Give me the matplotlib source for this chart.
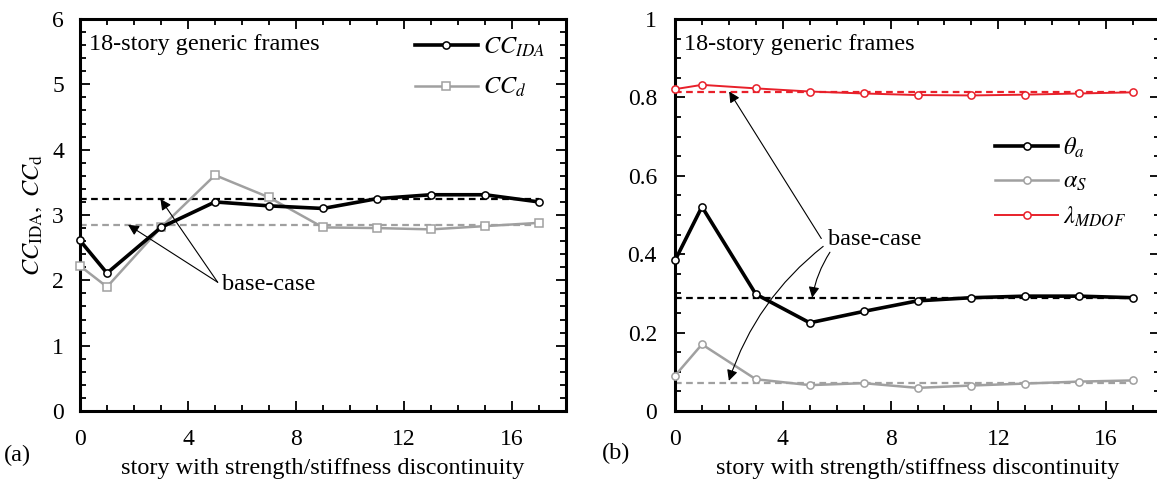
import matplotlib.pyplot as plt
from matplotlib.ticker import MultipleLocator

plt.rcParams['font.family'] = 'Liberation Serif'
plt.rcParams['mathtext.fontset'] = 'stix'

# ==============================================
story = [0, 1, 3, 5, 7, 9, 11, 13, 15, 17]

cc_ida = [2.61, 2.11, 2.81, 3.20, 3.14, 3.10, 3.25, 3.31, 3.31, 3.20]
cc_d = [2.22, 1.90, 2.81, 3.61, 3.27, 2.81, 2.80, 2.78, 2.83, 2.88]
cc_ida_base = 3.245
cc_d_base = 2.85

theta_a = [0.384, 0.521, 0.298, 0.225, 0.254, 0.281, 0.289, 0.293, 0.293, 0.289]
alpha_s = [0.090, 0.170, 0.081, 0.066, 0.071, 0.059, 0.065, 0.070, 0.075, 0.078]
lambda_mdof = [0.821, 0.832, 0.823, 0.815, 0.810, 0.806, 0.805, 0.807, 0.810, 0.813]
theta_a_base = 0.289
alpha_s_base = 0.072
lambda_base = 0.815

grey = "#a0a0a0"
red = "#e8202a"
fs = 17.5

# ==============================================
W, H = 1157, 482
fig = plt.figure(figsize=(W / 100, H / 100), dpi=100)
ax1 = fig.add_axes([80 / W, 71 / H, 486 / W, 392 / H])
ax2 = fig.add_axes([675 / W, 71 / H, 485 / W, 392 / H])


def style_axes(ax, ymax, ymajor, yminor, ypad):
    ax.set_xlim(0, 18)
    ax.set_ylim(0, ymax)
    ax.xaxis.set_major_locator(MultipleLocator(4))
    ax.xaxis.set_minor_locator(MultipleLocator(1))
    ax.yaxis.set_major_locator(MultipleLocator(ymajor))
    ax.yaxis.set_minor_locator(MultipleLocator(yminor))
    ax.tick_params(which="both", direction="in", top=True, right=True, width=1.3)
    ax.tick_params(which="major", length=7)
    ax.tick_params(which="minor", length=4)
    ax.tick_params(axis="x", labelsize=17, pad=13)
    ax.tick_params(axis="y", labelsize=17, pad=ypad)
    for s in ax.spines.values():
        s.set_linewidth(2.2)
    ax.set_xlabel("story with strength/stiffness discontinuity", fontsize=fs, labelpad=6)
    ax.text(0.019, 0.935, "18-story generic frames", transform=ax.transAxes,
            fontsize=fs, va="center", ha="left")


style_axes(ax1, 6, 1, 0.2, 11.5)
style_axes(ax2, 1, 0.2, 0.05, 13)
ax2.set_yticks([0, 0.2, 0.4, 0.6, 0.8, 1], labels=["0", "0.2", "0.4", "0.6", "0.8", "1"])

arrow = dict(arrowstyle="-|>", color="k", lw=0.8, mutation_scale=16, shrinkA=0, shrinkB=0)
leg_kw = dict(loc="upper left", frameon=False, fontsize=fs, handlelength=2.6,
              handletextpad=0.2, borderpad=0, borderaxespad=0)

# ---- (a) ----
ax1.hlines(cc_ida_base, story[0], story[-1], colors="k", linestyles=(0, (3, 2)), lw=1.6)
ax1.hlines(cc_d_base, story[0], story[-1], colors=grey, linestyles=(0, (3, 2)), lw=1.6)
ax1.plot(story, cc_d, color=grey, lw=1.8, marker="s", ms=5.2, mfc="white", mec=grey,
         mew=1.1, label=r"$CC_d$", clip_on=False, zorder=3)
ax1.plot(story, cc_ida, color="k", lw=2.6, marker="o", ms=5.2, mfc="white", mec="k",
         mew=1.1, label=r"$CC_{IDA}$", clip_on=False, zorder=4)

h, l = ax1.get_legend_handles_labels()
ax1.legend(h[::-1], l[::-1], bbox_to_anchor=(0.689, 0.957), labelspacing=0.7, **leg_kw)

ax1.text(5.25, 1.93, "base-case", fontsize=fs, va="center", ha="left")
ax1.annotate("", xy=(1.78, cc_d_base), xytext=(5.1, 1.97), arrowprops=arrow)
ax1.annotate("", xy=(2.98, cc_ida_base), xytext=(5.1, 1.97), arrowprops=arrow)
ax1.set_ylabel(r"$CC_{\mathrm{IDA}},\ CC_{\mathrm{d}}$", fontsize=fs, labelpad=6)

# ---- (b) ----
ax2.hlines(lambda_base, story[0], story[-1], colors=red, linestyles=(0, (3, 2)), lw=1.6)
ax2.hlines(theta_a_base, story[0], story[-1], colors="k", linestyles=(0, (3, 2)), lw=1.6)
ax2.hlines(alpha_s_base, story[0], story[-1], colors=grey, linestyles=(0, (3, 2)), lw=1.6)
ax2.plot(story, theta_a, color="k", lw=2.6, marker="o", ms=5.2, mfc="white", mec="k",
         mew=1.1, label=r"$\theta_a$", clip_on=False, zorder=4)
ax2.plot(story, alpha_s, color=grey, lw=1.8, marker="o", ms=5.2, mfc="white", mec=grey,
         mew=1.1, label=r"$\alpha_S$", clip_on=False, zorder=3)
ax2.plot(story, lambda_mdof, color=red, lw=1.4, marker="o", ms=5.2, mfc="white", mec=red,
         mew=1.1, label=r"$\lambda_{MDOF}$", clip_on=False, zorder=3)
ax2.legend(bbox_to_anchor=(0.66, 0.702), labelspacing=0.45, **leg_kw)

ax2.text(5.66, 0.438, "base-case", fontsize=fs, va="center", ha="left")
ax2.annotate("", xy=(2.01, lambda_base), xytext=(5.43, 0.44), arrowprops=arrow)
ax2.annotate("", xy=(2.0, alpha_s_base + 0.005), xytext=(5.5, 0.42),
             arrowprops=dict(arrow, connectionstyle="arc3,rad=0.15"))
ax2.annotate("", xy=(5.09, theta_a_base), xytext=(5.75, 0.405),
             arrowprops=dict(arrow, connectionstyle="arc3,rad=0.1"))

fig.text(4 / W, (H - 455) / H, "(a)", fontsize=fs, va="center", ha="left")
fig.text(602 / W, (H - 453) / H, "(b)", fontsize=fs, va="center", ha="left")

fig.savefig("out.png", dpi=100)
